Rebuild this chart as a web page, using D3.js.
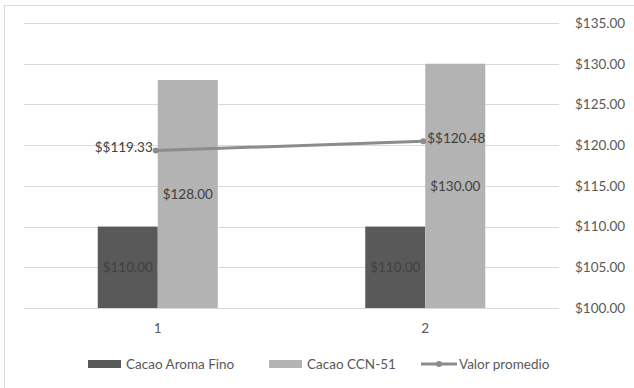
<!DOCTYPE html>
<html>
<head>
<meta charset="utf-8">
<script src="https://cdn.jsdelivr.net/npm/d3@7"></script>
<style>
  html, body { margin: 0; padding: 0; background: #fff; }
  svg { display: block; }
  text { font-family: Lato, "Liberation Sans", sans-serif; }
</style>
</head>
<body>
<svg id="chart" width="634" height="388"></svg>
<script>
// Cacao price comparison by period
const categories = ["1", "2"];
const aromaFino = [110, 110];
const ccn51 = [128, 130];
const promedio = [119.33, 120.48];
const promedioLabels = ["$$119.33", "$$120.48"];
const yTicks = [100, 105, 110, 115, 120, 125, 130, 135];
const seriesNames = ["Cacao Aroma Fino", "Cacao CCN-51", "Valor promedio"];

const svg = d3.select("#chart");
const plot = { left: 24, right: 559, top: 23, bottom: 308 };
const FS = 13.5;

// outer chart frame
svg.append("rect")
  .attr("x", 4.5).attr("y", 5.5)
  .attr("width", 660).attr("height", 420)
  .attr("fill", "none").attr("stroke", "#d9d9d9").attr("stroke-width", 1);

const x = d3.scaleBand().domain(categories).range([plot.left, plot.right]);
const inner = d3.scaleBand().domain([0, 1]).range([0, 120]);
const y = d3.scaleLinear().domain([100, 135]).range([plot.bottom, plot.top]);

// gridlines
svg.append("g").selectAll("line").data(yTicks).join("line")
  .attr("x1", plot.left).attr("x2", plot.right)
  .attr("y1", d => Math.round(y(d)) + 0.5).attr("y2", d => Math.round(y(d)) + 0.5)
  .attr("stroke", "#d9d9d9").attr("stroke-width", 1);

// right value axis
const yAxis = d3.axisRight(y).tickValues(yTicks).tickSize(0).tickPadding(0)
  .tickFormat(d => "$" + d3.format(".2f")(d));
const ya = svg.append("g").attr("transform", `translate(575,0)`).call(yAxis);
ya.select(".domain").remove();
ya.selectAll("text").attr("font-size", FS).attr("fill", "#595959")
  .attr("font-family", "Lato, 'Liberation Sans', sans-serif");

// category axis labels
const xa = svg.append("g").attr("transform", `translate(0,${plot.bottom})`)
  .call(d3.axisBottom(x).tickSize(0).tickPadding(15));
xa.select(".domain").remove();
xa.selectAll("text").attr("font-size", FS).attr("fill", "#595959")
  .attr("font-family", "Lato, 'Liberation Sans', sans-serif");

const colors = ["#595959", "#b3b3b3"];
const series = [aromaFino, ccn51];
const labelColors = ["#404040", "#404040"];

series.forEach((vals, si) => {
  const g = svg.append("g");
  g.selectAll("rect").data(vals).join("rect")
    .attr("x", (d, i) => x(categories[i]) + x.bandwidth() / 2 - 60 + inner(si))
    .attr("width", inner.bandwidth())
    .attr("y", d => y(d))
    .attr("height", d => y(100) - y(d))
    .attr("fill", colors[si]);
  g.selectAll("text").data(vals).join("text")
    .attr("x", (d, i) => x(categories[i]) + x.bandwidth() / 2 - 60 + inner(si) + inner.bandwidth() / 2)
    .attr("y", d => (y(d) + y(100)) / 2)
    .attr("dy", "0.35em")
    .attr("text-anchor", "middle")
    .attr("font-size", FS)
    .attr("fill", labelColors[si])
    .text(d => "$" + d3.format(".2f")(d));
});

// average line
const cx = i => x(categories[i]) + x.bandwidth() / 2 - 2;
const line = d3.line().x((d, i) => cx(i)).y(d => y(d));
svg.append("path").datum(promedio)
  .attr("d", line).attr("fill", "none")
  .attr("stroke", "#8c8c8c").attr("stroke-width", 3).attr("stroke-linecap", "round");
svg.append("g").selectAll("circle").data(promedio).join("circle")
  .attr("cx", (d, i) => cx(i)).attr("cy", d => y(d)).attr("r", 3)
  .attr("fill", "#8c8c8c");
svg.append("g").selectAll("text").data(promedio).join("text")
  .attr("x", (d, i) => i === 0 ? cx(i) - 3 : cx(i) + 4)
  .attr("y", d => y(d) - 3)
  .attr("dy", "0.35em")
  .attr("text-anchor", (d, i) => i === 0 ? "end" : "start")
  .attr("font-size", FS)
  .attr("fill", "#404040")
  .text((d, i) => promedioLabels[i]);

// legend
const legY = 364;
const leg = svg.append("g");
const legItems = [
  { x: 88, type: "rect", color: colors[0] },
  { x: 269, type: "rect", color: colors[1] },
  { x: 420, type: "line", color: "#8c8c8c" }
];
legItems.forEach((it, i) => {
  if (it.type === "rect") {
    leg.append("rect").attr("x", it.x).attr("y", legY - 4).attr("width", 33).attr("height", 8)
      .attr("fill", it.color);
  } else {
    leg.append("line").attr("x1", it.x + 1).attr("x2", it.x + 37)
      .attr("y1", legY).attr("y2", legY)
      .attr("stroke", it.color).attr("stroke-width", 3);
    leg.append("circle").attr("cx", it.x + 19).attr("cy", legY).attr("r", 3).attr("fill", it.color);
  }
  leg.append("text").attr("x", it.x + (it.type === "rect" ? 38 : 39)).attr("y", legY)
    .attr("dy", "0.35em").attr("font-size", FS).attr("fill", "#595959")
    .text(seriesNames[i]);
});
</script>
</body>
</html>
